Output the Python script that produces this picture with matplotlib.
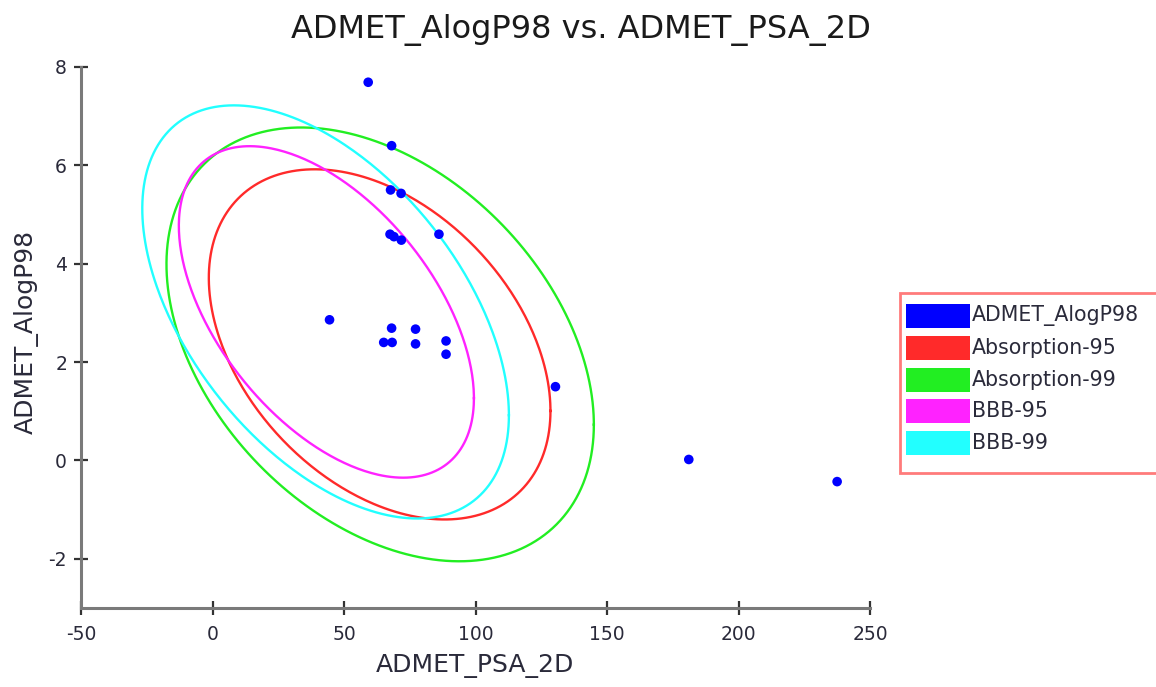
import numpy as np
import matplotlib
matplotlib.use("Agg")
import matplotlib.pyplot as plt
from matplotlib.patches import Rectangle

plt.rcParams["axes.unicode_minus"] = False

# ---- data ----
psa_2d = [59.2, 68.1, 67.7, 71.7, 67.5, 69.0, 71.8, 86.1, 44.5, 68.1, 77.2,
          65.1, 68.3, 77.2, 88.8, 88.8, 130.4, 181.1, 237.5]
alogp98 = [7.69, 6.40, 5.50, 5.43, 4.60, 4.55, 4.48, 4.60, 2.86, 2.69, 2.67,
           2.40, 2.40, 2.37, 2.43, 2.16, 1.50, 0.02, -0.43]

ellipse_names = ["Absorption-95", "Absorption-99", "BBB-95", "BBB-99"]
ellipse_cx = [63.55, 63.75, 43.3, 43.0]
ellipse_cy = [2.36, 2.36, 3.02, 3.02]
ellipse_sx = [64.95, 81.25, 56.1, 69.7]
ellipse_sy = [3.56, 4.41, 3.37, 4.20]
ellipse_rho = [-0.38, -0.37, -0.52, -0.50]
ellipse_colors = ["#ff2a2a", "#22ee22", "#ff22ff", "#22ffff"]

legend_labels = ["ADMET_AlogP98"] + ellipse_names
legend_colors = ["#0000ff"] + ellipse_colors

xticks = [-50, 0, 50, 100, 150, 200, 250]
yticks = [-2, 0, 2, 4, 6, 8]

# ---- figure ----
W, H = 1156, 687
fig = plt.figure(figsize=(W / 100, H / 100), dpi=100)
fig.patch.set_facecolor("white")

def fx(px):
    return px / W

def fy(py):
    return 1 - py / H

ax = fig.add_axes([fx(81), fy(608), fx(870) - fx(81), fy(67) - fy(608)])
ax.set_xlim(-50, 250)
ax.set_ylim(-3, 8)

t = np.linspace(0, 2 * np.pi, 400)
for cx, cy, sx, sy, rho, col in zip(ellipse_cx, ellipse_cy, ellipse_sx,
                                    ellipse_sy, ellipse_rho, ellipse_colors):
    phi = np.arccos(rho)
    ax.plot(cx + sx * np.cos(t), cy + sy * np.cos(t + phi), color=col, lw=1.7,
            zorder=2)

ax.scatter(psa_2d, alogp98, s=48, color="#0000ff", edgecolors="none", zorder=3)

for s in ["top", "right"]:
    ax.spines[s].set_visible(False)
for s in ["left", "bottom"]:
    ax.spines[s].set_color("#7a7a7a")
    ax.spines[s].set_linewidth(2.2)

ax.set_xticks(xticks)
ax.set_yticks(yticks)
ax.tick_params(direction="inout", length=10, width=1.6, color="#333333",
               labelcolor="#2a2a3a", labelsize=13.5, pad=5)
ax.tick_params(axis="x", pad=7)

fig.text(fx(581), fy(30), "ADMET_AlogP98 vs. ADMET_PSA_2D", ha="center",
         va="center", fontsize=23, color="#1a1a1a")
fig.text(fx(475), fy(666), "ADMET_PSA_2D", ha="center", va="center",
         fontsize=18, color="#2a2a3a")
fig.text(fx(26), fy(332), "ADMET_AlogP98", ha="center", va="center",
         rotation=90, fontsize=18, color="#2a2a3a")

# ---- legend ----
fig.add_artist(Rectangle((fx(900), fy(473)), fx(1170) - fx(900),
                         fy(293) - fy(473), transform=fig.transFigure,
                         facecolor="white", edgecolor="#ff7b7b", lw=2.0,
                         clip_on=False))
row_y = [316, 348, 379.5, 411, 443]
for lab, col, ry in zip(legend_labels, legend_colors, row_y):
    fig.add_artist(Rectangle((fx(906), fy(ry + 12)), fx(970) - fx(906),
                             fy(ry - 12) - fy(ry + 12),
                             transform=fig.transFigure, facecolor=col,
                             edgecolor="none"))
    fig.text(fx(972), fy(ry), lab, ha="left", va="center", fontsize=14.8,
             color="#2a2a3a")

fig.savefig("out.png", dpi=100, facecolor="white")
